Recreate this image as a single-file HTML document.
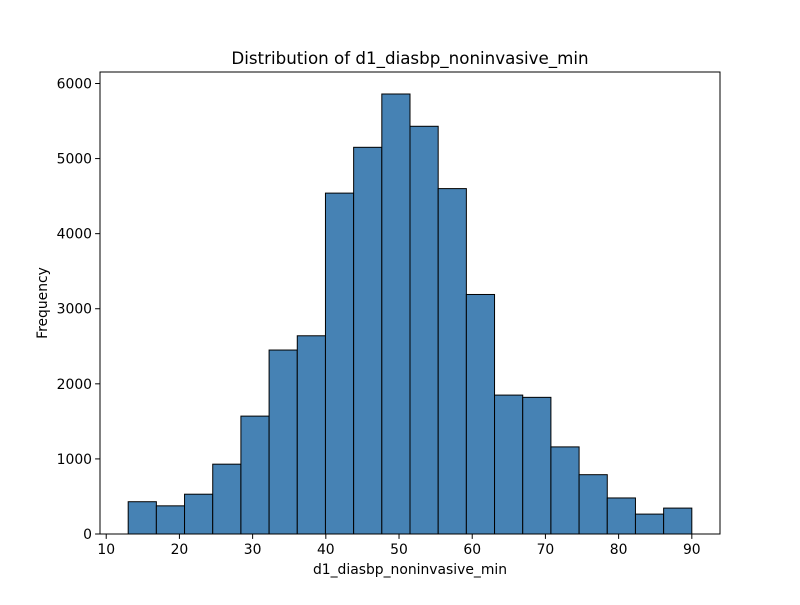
<!DOCTYPE html>
<html><head><meta charset="utf-8"><style>body{margin:0;background:#fff}svg text{font-family:"DejaVu Sans","Liberation Sans",sans-serif;fill:#000}</style></head>
<body>
<svg id="chart" width="800" height="600" xmlns="http://www.w3.org/2000/svg">
<rect width="800" height="600" fill="#fff"/>
<g id="bars"></g>
<g id="axes"></g>
<text x="410" y="64" font-size="16.7" text-anchor="middle">Distribution of d1_diasbp_noninvasive_min</text>
<text x="410" y="574" font-size="13.9" text-anchor="middle">d1_diasbp_noninvasive_min</text>
<text x="47" y="303" font-size="13.9" text-anchor="middle" transform="rotate(-90 47 303)">Frequency</text>
</svg>
<script>
const binStart = 13;
const binEnd = 90;
const counts = [430,375,530,930,1570,2450,2640,4540,5150,5860,5430,4600,3190,1850,1820,1160,790,480,265,345];
const xTicks = [10,20,30,40,50,60,70,80,90];
const yTicks = [0,1000,2000,3000,4000,5000,6000];
const L=100,R=720,T=72,B=534;
const bw=(binEnd-binStart)/counts.length;
const x0=binStart-(binEnd-binStart)*0.05, x1=binEnd+(binEnd-binStart)*0.05;
const yMax=Math.max(...counts)*1.05;
const sx=v=>L+(v-x0)/(x1-x0)*(R-L);
const sy=v=>B-v/yMax*(B-T);
const NS="http://www.w3.org/2000/svg";
const bars=document.getElementById('bars'), axes=document.getElementById('axes');
function mk(tag,attrs,parent){const e=document.createElementNS(NS,tag);for(const k in attrs)e.setAttribute(k,attrs[k]);parent.appendChild(e);return e;}
counts.forEach((c,i)=>{
  const a=sx(binStart+i*bw), b=sx(binStart+(i+1)*bw);
  const r=mk('rect',{x:a,y:sy(c),width:b-a,height:B-sy(c),fill:'#4682b4',stroke:'#000','stroke-width':1},bars);
  
  
});
mk('rect',{x:L,y:T,width:R-L,height:B-T,fill:'none',stroke:'#000','stroke-width':1},axes);
xTicks.forEach(t=>{
  const x=sx(t);
  mk('line',{x1:x,x2:x,y1:B,y2:B+4.9,stroke:'#000'},axes);
  const tx=mk('text',{x:x,y:B+20,'font-size':13.9,'text-anchor':'middle'},axes);
  tx.textContent=t;
  
  
});
yTicks.forEach(t=>{
  const y=sy(t);
  mk('line',{x1:L-4.9,x2:L,y1:y,y2:y,stroke:'#000'},axes);
  const tx=mk('text',{x:L-8,y:y+5,'font-size':13.9,'text-anchor':'end'},axes);
  tx.textContent=t;
  
  
});
</script>
</body></html>
